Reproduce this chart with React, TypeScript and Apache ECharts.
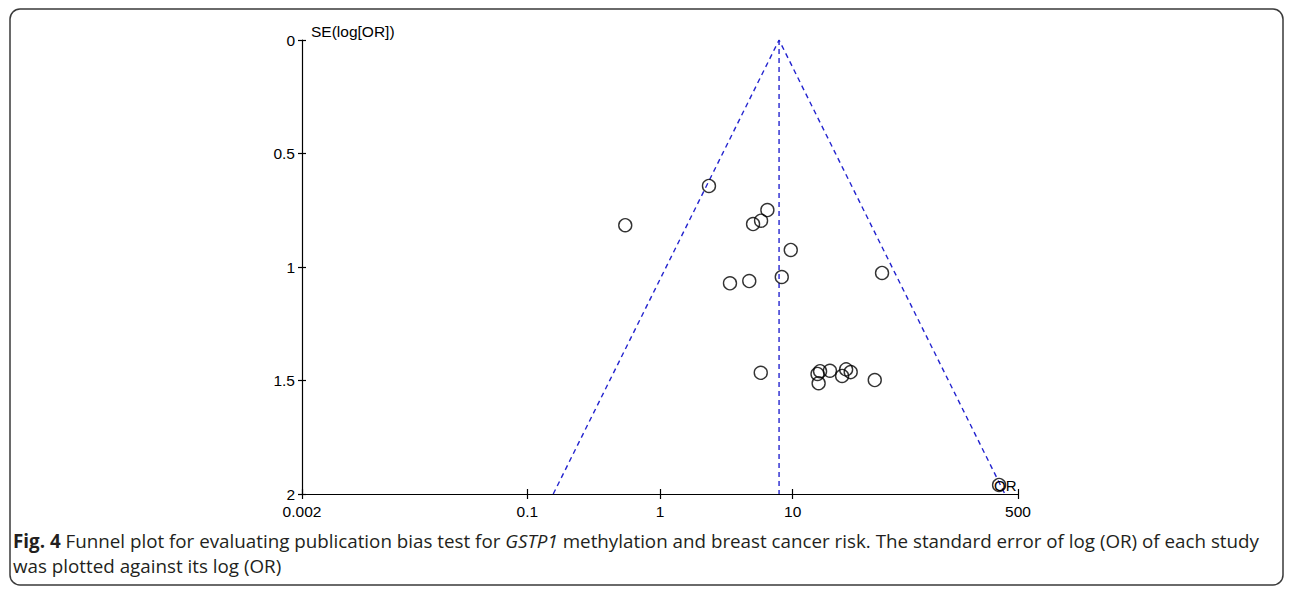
import React, { useEffect, useRef } from "react";
import * as echarts from "echarts";

// Study data
const STUDY_OR = [2.34, 0.547, 6.45, 5.78, 5.03, 9.68, 3.37, 4.71, 8.28, 47.2, 5.75, 15.4, 16.1, 19.1, 15.7, 23.6, 25.3, 27.4, 41.6, 360];
const STUDY_SE = [0.643, 0.816, 0.749, 0.796, 0.811, 0.925, 1.072, 1.062, 1.044, 1.026, 1.466, 1.471, 1.459, 1.457, 1.512, 1.48, 1.451, 1.463, 1.498, 1.96];

// Pooled estimate and funnel limits
const POOLED_OR = 7.9;
const Z = 1.96;

// Axes
const X_TICK_VALUES = [0.002, 0.1, 1, 10, 500];
const X_TICK_LABELS = ["0.002", "0.1", "1", "10", "500"];
const Y_MIN = 0;
const Y_MAX = 2;
const Y_INTERVAL = 0.5;

const CAPTION_LINE1_PREFIX = "Fig. 4";
const CAPTION_LINE1_A = " Funnel plot for evaluating publication bias test for ";
const CAPTION_GENE = "GSTP1";
const CAPTION_LINE1_B = " methylation and breast cancer risk. The standard error of log (OR) of each study";
const CAPTION_LINE2 = "was plotted against its log (OR)";

const AXIS_FONT = "'Liberation Sans', Arial, sans-serif";
const CAPTION_FONT = "'Open Sans', 'Noto Sans', sans-serif";
const CAPTION_SIZE = 18.8;

export default function App() {
  const ref = useRef<HTMLDivElement>(null);

  useEffect(() => {
    if (!ref.current) return;
    const chart = echarts.init(ref.current, undefined, { renderer: "svg" });
    const lg = (v: number) => Math.log10(v);
    const xTickPos = X_TICK_VALUES.map(lg);
    const pooled = lg(POOLED_OR);
    const spread = (Z * Y_MAX) / Math.LN10;

    const labelFor = (v: number) => {
      let best = 0;
      let d = Infinity;
      xTickPos.forEach((p, i) => {
        const dd = Math.abs(p - v);
        if (dd < d) {
          d = dd;
          best = i;
        }
      });
      return X_TICK_LABELS[best];
    };

    const xBase = {
      type: "value" as const,
      min: lg(X_TICK_VALUES[0]),
      max: lg(X_TICK_VALUES[X_TICK_VALUES.length - 1]),
      splitLine: { show: false },
      position: "bottom" as const,
    };
    const yBase = {
      type: "value" as const,
      inverse: true,
      min: Y_MIN,
      max: Y_MAX,
      interval: Y_INTERVAL,
      splitLine: { show: false },
      position: "left" as const,
    };

    const dashStyle = { color: "#2424cf", width: 1.4, type: [5, 4] as any };
    const tickLine = { color: "#000", width: 1.2 };

    chart.setOption({
      animation: false,
      backgroundColor: "#ffffff",
      grid: { left: 302, right: 275, top: 40, bottom: 95, containLabel: false, outerBoundsMode: "none" },
      xAxis: [
        {
          ...xBase,
          axisLine: { show: true, onZero: false, lineStyle: tickLine },
          axisTick: { show: true, length: 5, customValues: xTickPos, lineStyle: tickLine },
          axisLabel: {
            show: true,
            customValues: xTickPos,
            formatter: (v: number) => labelFor(v),
            color: "#000",
            fontSize: 15.5,
            fontFamily: AXIS_FONT,
            margin: 9,
          },
        },
        {
          ...xBase,
          axisLine: { show: false, onZero: false },
          axisTick: { show: true, inside: true, length: 5, customValues: xTickPos, lineStyle: tickLine },
          axisLabel: { show: false },
        },
      ],
      yAxis: [
        {
          ...yBase,
          axisLine: { show: true, onZero: false, lineStyle: tickLine },
          axisTick: { show: true, length: 4, lineStyle: tickLine },
          axisLabel: { color: "#000", fontSize: 15.5, fontFamily: AXIS_FONT, margin: 7 },
        },
        {
          ...yBase,
          axisLine: { show: false, onZero: false },
          axisTick: { show: true, inside: true, length: 4, lineStyle: tickLine },
          axisLabel: { show: false },
        },
      ],
      series: [
        {
          type: "line",
          xAxisIndex: 0,
          yAxisIndex: 0,
          data: [
            [pooled - spread, Y_MAX],
            [pooled, Y_MIN],
            [pooled + spread, Y_MAX],
          ],
          symbol: "none",
          lineStyle: dashStyle,
          z: 2,
        },
        {
          type: "line",
          xAxisIndex: 0,
          yAxisIndex: 0,
          data: [
            [pooled, Y_MIN],
            [pooled, Y_MAX],
          ],
          symbol: "none",
          lineStyle: dashStyle,
          z: 2,
        },
        {
          type: "scatter",
          xAxisIndex: 0,
          yAxisIndex: 0,
          data: STUDY_OR.map((o, i) => [lg(o), STUDY_SE[i]]),
          symbol: "circle",
          symbolSize: 13,
          itemStyle: { color: "rgba(255,255,255,0)", borderColor: "#000", borderWidth: 1.4 },
          z: 3,
        },
      ],
      graphic: [
        {
          type: "rect",
          shape: { x: 10, y: 9, width: 1273, height: 576, r: 10 },
          style: { fill: "none", stroke: "#3a3a3a", lineWidth: 1.5 },
          silent: true,
          z: 0,
        },
        {
          type: "text",
          x: 311,
          y: 31,
          style: {
            text: "SE(log[OR])",
            fontSize: 15.5,
            fontFamily: AXIS_FONT,
            fill: "#000",
            verticalAlign: "middle",
            align: "left",
          },
          z: 10,
        },
        {
          type: "text",
          x: 994,
          y: 485,
          style: {
            text: "OR",
            fontSize: 15,
            fontFamily: AXIS_FONT,
            fill: "#000",
            verticalAlign: "middle",
            align: "left",
          },
          z: 10,
        },
        {
          type: "text",
          x: 13,
          y: 528,
          style: {
            text:
              "{b|" + CAPTION_LINE1_PREFIX + "}{n|" + CAPTION_LINE1_A + "}{i|" + CAPTION_GENE + "}{n|" + CAPTION_LINE1_B + "}\n{n|" + CAPTION_LINE2 + "}",
            fontSize: CAPTION_SIZE,
            fontFamily: CAPTION_FONT,
            fill: "#231f20",
            lineHeight: 25,
            rich: {
              b: { fontSize: CAPTION_SIZE, fontFamily: CAPTION_FONT, fontWeight: "bold", fill: "#231f20", lineHeight: 25 },
              n: { fontSize: CAPTION_SIZE, fontFamily: CAPTION_FONT, fill: "#231f20", lineHeight: 25 },
              i: { fontSize: CAPTION_SIZE, fontFamily: CAPTION_FONT, fontStyle: "italic", fill: "#231f20", lineHeight: 25 },
            },
          },
          z: 10,
        },
      ],
    });
    return () => chart.dispose();
  }, []);

  return <div ref={ref} style={{ position: "fixed", left: 0, top: 0, width: 1293, height: 589 }} />;
}
